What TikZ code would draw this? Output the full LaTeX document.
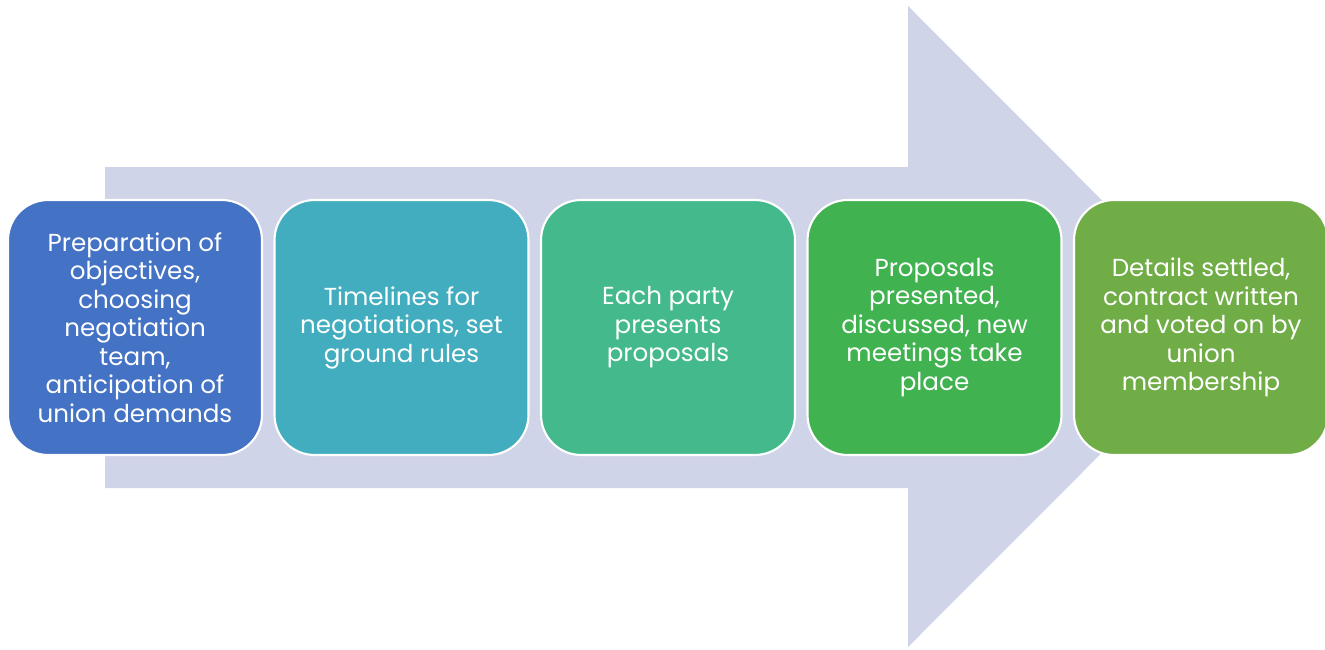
\documentclass[tikz,border=0pt]{standalone}
\usepackage{fontspec}
\setmainfont{Poppins}
\usetikzlibrary{positioning}
\definecolor{flowblue}{RGB}{68,114,196}
\definecolor{flowteal}{RGB}{66,173,190}
\definecolor{flowsea}{RGB}{68,186,140}
\definecolor{flowgreen}{RGB}{64,178,80}
\definecolor{flowolive}{RGB}{112,173,71}
\definecolor{flowband}{RGB}{207,212,232}

\begin{document}
\begin{tikzpicture}[
  x=0.02cm, y=-0.02cm,
  stage/.style={draw=white,line width=1.2pt,rounded corners=0.8cm,
                minimum width=5.08cm,minimum height=5.1cm,
                font=\fontsize{14}{16.2}\selectfont,align=center,
                text=white,inner sep=0pt}
]
  \useasboundingbox (0,0) rectangle (1325,649);
  % big background arrow
  \fill[flowband] (105,167) -- (908,167) -- (908,6) -- (1228,326.5)
    -- (908,647) -- (908,488) -- (105,488) -- cycle;
  % stages
  \node[stage,fill=flowblue]  (prep)   at (135,327.5)   {Preparation of\\objectives,\\choosing\\negotiation\\team,\\anticipation of\\union demands};
  \node[stage,fill=flowteal]  (time)   at (401.5,327.5) {Timelines for\\negotiations, set\\ground rules};
  \node[stage,fill=flowsea]   (props)  at (668,327.5)   {Each party\\presents\\proposals};
  \node[stage,fill=flowgreen] (meet)   at (934.5,327.5) {Proposals\\presented,\\discussed, new\\meetings take\\place};
  \node[stage,fill=flowolive] (settle) at (1201,327.5)  {Details settled,\\contract written\\and voted on by\\union\\membership};
\end{tikzpicture}
\end{document}
